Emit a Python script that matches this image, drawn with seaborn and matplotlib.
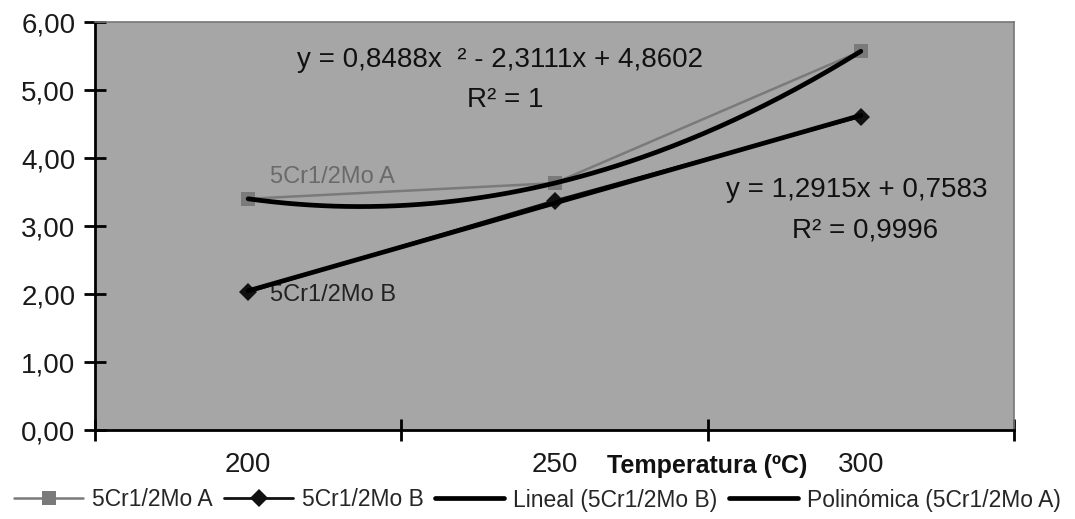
import numpy as np
import pandas as pd
import matplotlib
matplotlib.use("Agg")
import matplotlib.pyplot as plt
import seaborn as sns
from matplotlib.lines import Line2D

# ---- data ----
temperatures = ["200", "250", "300"]
positions = [1, 2, 3]
serie_a = [3.40, 3.63, 5.57]
serie_b = [2.03, 3.37, 4.61]
y_ticks = [0, 1, 2, 3, 4, 5, 6]
y_tick_labels = ["0,00", "1,00", "2,00", "3,00", "4,00", "5,00", "6,00"]
name_a = "5Cr1/2Mo A"
name_b = "5Cr1/2Mo B"
eq_poly = "y = 0,8488x  \u00b2 - 2,3111x + 4,8602"
r2_poly = "R\u00b2 = 1"
eq_lin = "y = 1,2915x + 0,7583"
r2_lin = "R\u00b2 = 0,9996"

sns.set_theme(style="white")
plt.rcParams["font.family"] = ["Liberation Sans", "DejaVu Sans"]

fig = plt.figure(figsize=(10.75, 5.19), dpi=100)
ax = fig.add_axes([95/1075, 1-430/519, (1014-95)/1075, (430-22)/519])
ax.set_facecolor("#a6a6a6")

# trendlines (fitted from the data)
xs = np.linspace(1, 3, 200)
poly = np.polyfit(positions, serie_a, 2)
lin = np.polyfit(positions, serie_b, 1)
df_trend = pd.DataFrame({"x": np.concatenate([xs, xs]),
                         "y": np.concatenate([np.polyval(lin, xs), np.polyval(poly, xs)]),
                         "s": ["Lineal (5Cr1/2Mo B)"]*len(xs) + ["Polinómica (5Cr1/2Mo A)"]*len(xs)})

df = pd.DataFrame({"x": positions*2, "y": serie_a + serie_b,
                   "s": [name_a]*3 + [name_b]*3})

sns.lineplot(data=df[df.s == name_a], x="x", y="y", color="#7a7a7a", lw=1.8,
             marker="s", markersize=10, markeredgewidth=0, ax=ax, legend=False, zorder=3)
sns.lineplot(data=df[df.s == name_b], x="x", y="y", color="#111111", lw=2,
             marker="D", markersize=9, markeredgewidth=0, ax=ax, legend=False, zorder=3)
sns.lineplot(data=df_trend[df_trend.s.str.startswith("Lineal")], x="x", y="y",
             color="#000000", lw=3.4, ax=ax, legend=False, zorder=4)
sns.lineplot(data=df_trend[df_trend.s.str.startswith("Pol")], x="x", y="y",
             color="#000000", lw=3.4, ax=ax, legend=False, zorder=4)

ax.set_xlim(0.5, 3.5)
ax.set_ylim(0, 6)

# axes styling
for side in ["left", "bottom"]:
    ax.spines[side].set_color("#000000")
    ax.spines[side].set_linewidth(2)
for side in ["top", "right"]:
    ax.spines[side].set_color("#777777")
    ax.spines[side].set_linewidth(1.2)

ax.set_yticks(y_ticks)
ax.set_yticklabels(y_tick_labels, fontsize=20, color="#1a1a1a")
ax.set_xticks([0.5, 1.5, 2.5, 3.5])
ax.set_xticklabels([])
ax.set_xticks(positions, minor=True)
ax.set_xticklabels(temperatures, minor=True, fontsize=20, color="#1a1a1a")
ax.tick_params(axis="y", which="major", direction="inout", length=16, width=2, color="black", pad=6, left=True)
ax.tick_params(axis="x", which="major", direction="inout", length=16, width=2, color="black", bottom=True)
ax.tick_params(axis="x", which="minor", length=0, pad=16)
ax.set_ylabel("")
ax.set_xlabel("Temperatura (\u00baC)", fontsize=18, fontweight="bold", color="#111111")
ax.xaxis.set_label_coords(2/3, -0.06)

# data labels
ax.text(1.07, 3.72, name_a, fontsize=17, color="#6a6a6a", va="center", ha="left")
ax.text(1.07, 1.98, name_b, fontsize=17, color="#222222", va="center", ha="left")

# equations
ax.text(1.822, 5.44, eq_poly, fontsize=20, ha="center", va="center", color="#111111")
ax.text(1.839, 4.85, r2_poly, fontsize=20, ha="center", va="center", color="#111111")
ax.text(2.988, 3.53, eq_lin, fontsize=20, ha="center", va="center", color="#111111")
ax.text(3.014, 2.94, r2_lin, fontsize=20, ha="center", va="center", color="#111111")

handles = [
    Line2D([], [], color="#7a7a7a", lw=1.8, marker="s", markersize=10, markeredgewidth=0),
    Line2D([], [], color="#111111", lw=2, marker="D", markersize=9, markeredgewidth=0),
    Line2D([], [], color="#000000", lw=3.4),
    Line2D([], [], color="#000000", lw=3.4),
]
labels = [name_a, name_b, "Lineal (5Cr1/2Mo B)", "Polinómica (5Cr1/2Mo A)"]
fig.legend(handles, labels, loc="center", bbox_to_anchor=(0.5, 1-500/519), ncol=4,
           frameon=False, fontsize=16.5, handlelength=3.0, columnspacing=0.5,
           handletextpad=0.4, borderaxespad=0)

fig.savefig("out.png", dpi=100, facecolor="white")
